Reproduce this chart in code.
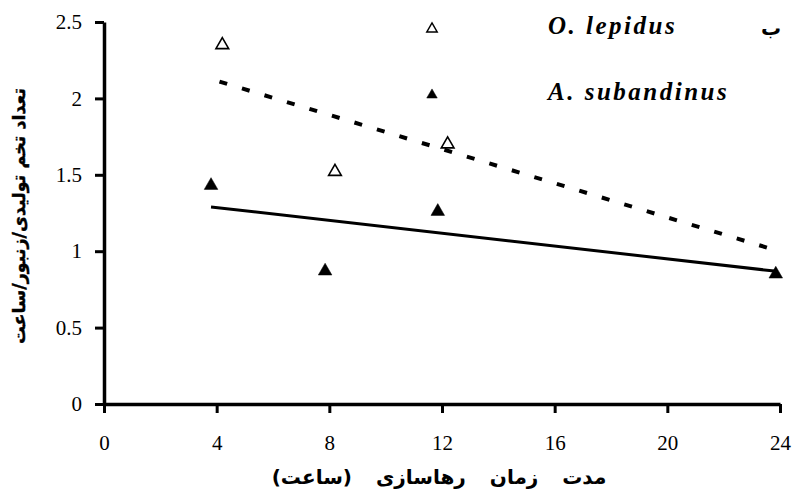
<!DOCTYPE html>
<html>
<head>
<meta charset="utf-8">
<script src="https://cdn.jsdelivr.net/npm/d3@7"></script>
<style>
  body { margin: 0; background: #fff; }
  svg { display: block; }
</style>
</head>
<body>
<script>
const width = 792;
const height = 497;
const margin = { top: 22, right: 12, bottom: 93, left: 104 };

// release time (hours) and eggs laid per wasp per hour
const lepidusHours = [4.2, 8.2, 12.2];
const lepidusEggs = [2.35, 1.52, 1.7];
const subandinusHours = [3.8, 7.85, 11.85, 23.85];
const subandinusEggs = [1.43, 0.87, 1.26, 0.85];

// trend line end points
const lepidusTrendHours = [4.1, 23.6];
const lepidusTrendEggs = [2.11, 1.02];
const subandinusTrendHours = [3.8, 23.8];
const subandinusTrendEggs = [1.29, 0.87];

const xTicks = [0, 4, 8, 12, 16, 20, 24];
const yTicks = [0, 0.5, 1, 1.5, 2, 2.5];

const seriesNames = ["O. lepidus", "A. subandinus"];
const xTitle = "مدت زمان رهاسازی (ساعت)";
const yTitle = "تعداد تخم تولیدی/زنبور/ساعت";
const panelLabel = "ب";

const serif = "Liberation Serif";
const arabic = "DejaVu Sans";

let canvas, xScale, yScale;

const drawCanvas = () => {
  canvas = d3
    .select("body")
    .append("svg")
    .attr("width", width)
    .attr("height", height);

  canvas
    .append("rect")
    .attr("width", width)
    .attr("height", height)
    .attr("fill", "#fff");
};

const generateScales = () => {
  xScale = d3
    .scaleLinear()
    .domain([0, 24])
    .range([margin.left, width - margin.right]);

  yScale = d3
    .scaleLinear()
    .domain([0, 2.5])
    .range([height - margin.bottom, margin.top]);
};

const styleAxis = (g) => {
  g.attr("font-family", serif).attr("font-size", 21);
  g.select(".domain").attr("stroke", "#000").attr("stroke-width", 3.5);
  g.selectAll(".tick line").attr("stroke", "#000").attr("stroke-width", 3);
  g.selectAll(".tick text").attr("fill", "#000");
};

const generateAxes = () => {
  const xAxis = d3
    .axisBottom(xScale)
    .tickValues(xTicks)
    .tickFormat(d3.format("d"))
    .tickSizeInner(9)
    .tickSizeOuter(0)
    .tickPadding(22);

  canvas
    .append("g")
    .attr("transform", "translate(0," + (height - margin.bottom) + ")")
    .call(xAxis)
    .call(styleAxis);

  const yAxis = d3
    .axisLeft(yScale)
    .tickValues(yTicks)
    .tickFormat((d) => String(d))
    .tickSizeInner(9)
    .tickSizeOuter(0)
    .tickPadding(13);

  canvas
    .append("g")
    .attr("transform", "translate(" + margin.left + ",0)")
    .call(yAxis)
    .call(styleAxis);

  // axis titles
  canvas
    .append("text")
    .attr("x", 439)
    .attr("y", 484)
    .attr("text-anchor", "middle")
    .attr("direction", "rtl")
    .attr("font-family", arabic)
    .attr("font-weight", "bold")
    .attr("font-size", 20)
    .attr("word-spacing", 17)
    .text(xTitle);

  canvas
    .append("text")
    .attr("transform", "translate(25,216) rotate(-90)")
    .attr("text-anchor", "middle")
    .attr("direction", "rtl")
    .attr("font-family", arabic)
    .attr("font-weight", "bold")
    .attr("font-size", 17.5)
    .attr("stroke", "#000")
    .attr("stroke-width", 0.4)
    .text(yTitle);
};

const drawTrend = (hours, eggs, dash, strokeWidth) => {
  const line = d3
    .line()
    .x((d) => xScale(d[0]))
    .y((d) => yScale(d[1]));

  canvas
    .append("path")
    .datum(d3.zip(hours, eggs))
    .attr("d", line)
    .attr("fill", "none")
    .attr("stroke", "#000")
    .attr("stroke-width", strokeWidth)
    .attr("stroke-dasharray", dash);
};

const triangle = d3.symbol().type(d3.symbolTriangle);

const drawPoints = (hours, eggs, filled) => {
  canvas
    .append("g")
    .selectAll("path")
    .data(d3.zip(hours, eggs))
    .enter()
    .append("path")
    .attr("d", triangle.size(filled ? 80 : 70)())
    .attr("transform", (d) => `translate(${xScale(d[0])},${yScale(d[1])})`)
    .attr("fill", filled ? "#000" : "#fff")
    .attr("stroke", "#000")
    .attr("stroke-width", filled ? 0.5 : 1.6);
};

const drawLegend = () => {
  const legend = canvas.append("g");
  const rows = [
    { name: seriesNames[0], filled: false, y: 29 },
    { name: seriesNames[1], filled: true, y: 95 },
  ];

  rows.forEach((r) => {
    legend
      .append("path")
      .attr("d", triangle.size(48)())
      .attr("transform", `translate(432,${r.y})`)
      .attr("fill", r.filled ? "#000" : "#fff")
      .attr("stroke", "#000")
      .attr("stroke-width", r.filled ? 0.5 : 1.4);

    legend
      .append("text")
      .attr("x", 548)
      .attr("y", r.y + 5)
      .attr("font-family", serif)
      .attr("font-weight", "bold")
      .attr("font-style", "italic")
      .attr("font-size", 25)
      .attr("letter-spacing", 2.5)
      .text(r.name);
  });

  canvas
    .append("text")
    .attr("x", 771)
    .attr("y", 35)
    .attr("text-anchor", "middle")
    .attr("font-family", arabic)
    .attr("font-weight", "bold")
    .attr("font-size", 20)
    .text(panelLabel);
};

drawCanvas();
generateScales();
drawTrend(lepidusTrendHours, lepidusTrendEggs, "8,15.5", 4);
drawTrend(subandinusTrendHours, subandinusTrendEggs, null, 3);
generateAxes();
drawPoints(lepidusHours, lepidusEggs, false);
drawPoints(subandinusHours, subandinusEggs, true);
drawLegend();
</script>
</body>
</html>
